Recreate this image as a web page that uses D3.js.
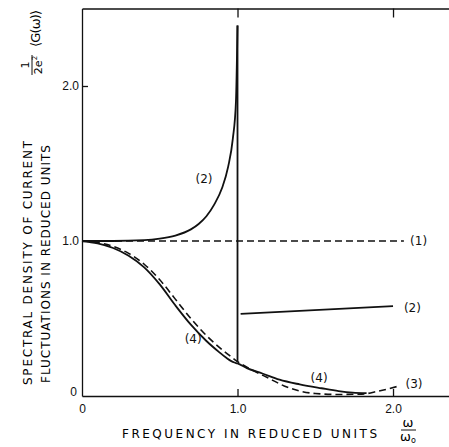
<!DOCTYPE html>
<style>
    body { margin: 0; background: #fff; }
    svg { font-family: "DejaVu Sans", sans-serif; }
    .axis path, .axis line { stroke: #111; stroke-width: 1.3px; }
    .axis text { font-size: 12px; fill: #111; }
    .curve { fill: none; stroke: #111; stroke-width: 1.8px; stroke-linejoin: round; }
    .dashed { stroke-dasharray: 7,4; stroke-width: 1.6px; }
    .lbl { font-size: 12px; fill: #111; }
</style>
<svg width="449" height="447"></svg>
<script src="https://d3js.org/d3.v7.min.js"></script>
<script>

    // curve (1): constant level
    var curve1 = [[0, 1], [2.07, 1]];
    // curve (2), below and above the cutoff
    var curve2a = [[0, 1], [0.2, 1], [0.4, 1.005], [0.5, 1.015], [0.6, 1.035], [0.7, 1.075],
        [0.75, 1.11], [0.8, 1.16], [0.85, 1.235], [0.9, 1.34], [0.94, 1.48], [0.97, 1.66],
        [0.99, 1.9], [1.0, 2.39]];
    var drop2 = [[1.0, 2.39], [1.0, 0.22]];
    var curve2b = [[1.02, 0.53], [2.0, 0.58]];
    // curve (3) dashed
    var curve3 = [[0, 1], [0.1, 0.99], [0.2, 0.965], [0.3, 0.92], [0.4, 0.85], [0.5, 0.75],
        [0.6, 0.625], [0.7, 0.5], [0.8, 0.39], [0.9, 0.3], [0.95, 0.26], [1.0, 0.222],
        [1.1, 0.165], [1.2, 0.115], [1.3, 0.065], [1.4, 0.032], [1.5, 0.016], [1.65, 0.01],
        [1.8, 0.012], [1.9, 0.03], [2.04, 0.065]];
    // curve (4) solid
    var curve4 = [[0, 1], [0.1, 0.985], [0.2, 0.955], [0.3, 0.905], [0.4, 0.83], [0.5, 0.72],
        [0.6, 0.585], [0.7, 0.46], [0.8, 0.355], [0.88, 0.285], [0.93, 0.245], [0.96, 0.225],
        [0.98, 0.216], [1.0, 0.21], [1.06, 0.18], [1.16, 0.145], [1.27, 0.105], [1.4, 0.075],
        [1.54, 0.05], [1.65, 0.032], [1.74, 0.022], [1.83, 0.018]];

    var xTicks = [0, 1, 2], yTicks = [0, 1, 2];
    var labels = [
        {t: "(1)", x: 2.11, y: 1.0},
        {t: "(2)", x: 0.73, y: 1.4},
        {t: "(2)", x: 2.07, y: 0.57},
        {t: "(3)", x: 2.08, y: 0.08},
        {t: "(4)", x: 0.66, y: 0.37},
        {t: "(4)", x: 1.47, y: 0.115}
    ];

    var svg = d3.select("svg"),
        mLeft = 82, mBottom = 396, mTop = 8.5, mRight = 449;

    var x = d3.scaleLinear().domain([0, 2.36]).range([mLeft, mRight]);
    var y = d3.scaleLinear().domain([0, 2.5]).range([mBottom, mTop]);

    // frame: top line with ticks
    svg.append("g").attr("class", "axis")
        .attr("transform", "translate(0," + mTop + ")")
        .call(d3.axisTop(x).tickValues([1, 2]).tickSize(-9).tickSizeOuter(0).tickFormat(""));

    var xa = svg.append("g").attr("class", "axis")
        .attr("transform", "translate(0," + mBottom + ")")
        .call(d3.axisBottom(x).tickValues(xTicks).tickSize(-7).tickSizeOuter(0)
            .tickFormat(d => d === 0 ? "0" : d3.format(".1f")(d)));
    xa.selectAll(".tick text").attr("y", 8).attr("dy", "0.71em");
    xa.selectAll(".tick").filter(d => d === 0).select("line").remove();

    var ya = svg.append("g").attr("class", "axis")
        .attr("transform", "translate(" + mLeft + ",0)")
        .call(d3.axisLeft(y).tickValues(yTicks).tickSize(-6).tickSizeOuter(0)
            .tickFormat(d => d === 0 ? "0" : d3.format(".1f")(d)));
    ya.selectAll(".tick text").attr("x", -3);
    ya.selectAll(".tick").filter(d => d === 0).select("text").attr("dy", "-0.05em").attr("x", -5);
    ya.selectAll(".tick").filter(d => d === 0).select("line").remove();

    var line = d3.line().x(d => x(d[0])).y(d => y(d[1])).curve(d3.curveMonotoneX);
    var straight = d3.line().x(d => x(d[0])).y(d => y(d[1]));

    svg.append("path").attr("class", "curve dashed").attr("d", straight(curve1));
    svg.append("path").attr("class", "curve dashed").attr("d", line(curve3));
    svg.append("path").attr("class", "curve").attr("d", line(curve2a));
    svg.append("path").attr("class", "curve").attr("d", straight(drop2));
    svg.append("path").attr("class", "curve").attr("d", straight(curve2b));
    svg.append("path").attr("class", "curve").attr("d", line(curve4));

    svg.selectAll(".lbl").data(labels).enter().append("text")
        .attr("class", "lbl")
        .attr("x", d => x(d.x)).attr("y", d => y(d.y))
        .attr("dy", "0.35em")
        .text(d => d.t);

    // x axis title
    svg.append("text").attr("x", 122).attr("y", 438)
        .attr("font-size", 12).attr("textLength", 255).attr("lengthAdjust", "spacing")
        .text("FREQUENCY IN REDUCED UNITS");
    var fr = svg.append("g").attr("transform", "translate(408,0)");
    fr.append("text").attr("y", 427).attr("text-anchor", "middle").attr("font-size", 13).text("ω");
    fr.append("line").attr("x1", -7).attr("x2", 8).attr("y1", 430).attr("y2", 430)
        .attr("stroke", "#111").attr("stroke-width", 1);
    var den = fr.append("text").attr("y", 441).attr("text-anchor", "middle").attr("font-size", 13);
    den.append("tspan").text("ω");
    den.append("tspan").attr("font-size", 8).attr("dy", 2).text("o");

    // y axis title
    svg.append("text").attr("transform", "translate(32,385) rotate(-90)")
        .attr("font-size", 12).attr("textLength", 244).attr("lengthAdjust", "spacing")
        .text("SPECTRAL DENSITY OF CURRENT");
    svg.append("text").attr("transform", "translate(50,383) rotate(-90)")
        .attr("font-size", 12).attr("textLength", 238).attr("lengthAdjust", "spacing")
        .text("FLUCTUATIONS IN REDUCED UNITS");

    var g = svg.append("g").attr("transform", "translate(32,65) rotate(-90)");
    g.append("line").attr("x1", -10).attr("x2", 10).attr("y1", 0).attr("y2", 0)
        .attr("stroke", "#111").attr("stroke-width", 1);
    g.append("text").attr("y", -3).attr("text-anchor", "middle").attr("font-size", 11).text("1");
    var d2 = g.append("text").attr("y", 10).attr("text-anchor", "middle").attr("font-size", 11);
    d2.append("tspan").text("2e");
    d2.append("tspan").attr("font-size", 7).attr("dy", -5).text("2");
    svg.append("text").attr("transform", "translate(40,47) rotate(-90)")
        .attr("font-size", 13).attr("textLength", 37).attr("lengthAdjust", "spacing")
        .text("⟨G(ω)⟩");

</script>
